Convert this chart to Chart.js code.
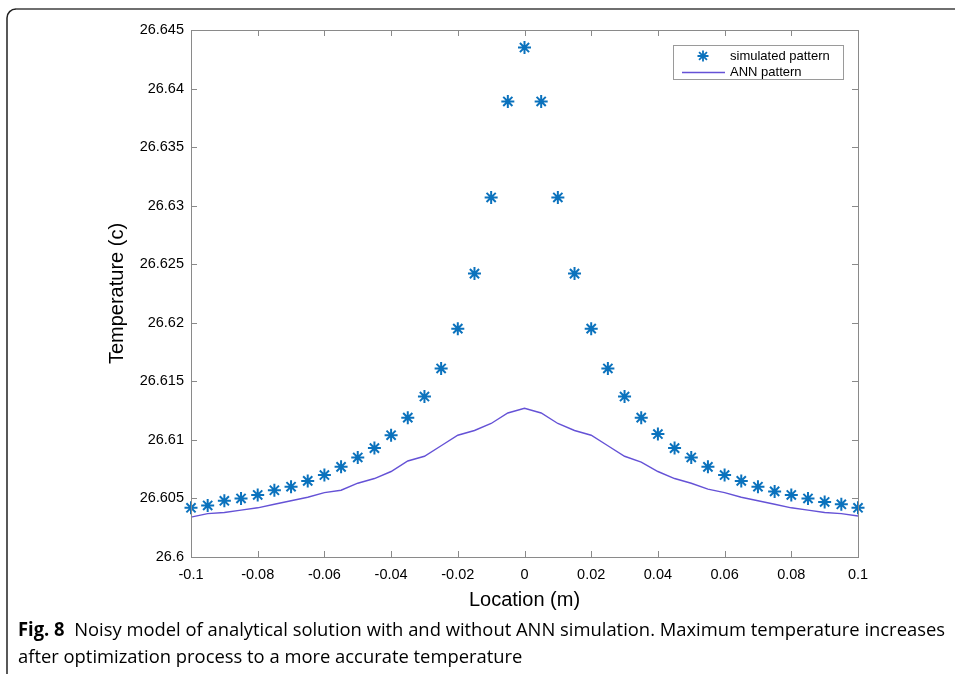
<!DOCTYPE html>
<html>
<head>
<meta charset="utf-8">
<script src="https://cdn.jsdelivr.net/npm/chart.js@4/dist/chart.umd.min.js"></script>
<style>
  html, body { margin: 0; padding: 0; background: #fff; }
  #wrap { width: 955px; height: 674px; }
</style>
</head>
<body>
<div id="wrap"><canvas id="myChart" width="955" height="674"></canvas></div>
<script>
// location along the sample (m)
const locations = [-0.1, -0.095, -0.09, -0.085, -0.08, -0.075, -0.07, -0.065, -0.06, -0.055,
  -0.05, -0.045, -0.04, -0.035, -0.03, -0.025, -0.02, -0.015, -0.01, -0.005, 0,
  0.005, 0.01, 0.015, 0.02, 0.025, 0.03, 0.035, 0.04, 0.045, 0.05,
  0.055, 0.06, 0.065, 0.07, 0.075, 0.08, 0.085, 0.09, 0.095, 0.1];

const simulated = [26.6042, 26.6044, 26.6048, 26.6050, 26.6053, 26.6057, 26.6060, 26.6065, 26.6070, 26.6077,
  26.6085, 26.6093, 26.6104, 26.6119, 26.6137, 26.6161, 26.6195, 26.6242, 26.6307, 26.6389, 26.6435,
  26.6389, 26.6307, 26.6242, 26.6195, 26.6161, 26.6137, 26.6119, 26.6105, 26.6093, 26.6085,
  26.6077, 26.6070, 26.6065, 26.6060, 26.6056, 26.6053, 26.6050, 26.6047, 26.6045, 26.6042];

const ann = [26.6034, 26.6037, 26.6038, 26.6040, 26.6042, 26.6045, 26.6048, 26.6051, 26.6055, 26.6057,
  26.6063, 26.6067, 26.6073, 26.6082, 26.6086, 26.6095, 26.6104, 26.6108, 26.6114, 26.6123, 26.6127,
  26.6123, 26.6114, 26.6108, 26.6104, 26.6095, 26.6086, 26.6081, 26.6073, 26.6067, 26.6063,
  26.6058, 26.6055, 26.6051, 26.6048, 26.6045, 26.6042, 26.6040, 26.6038, 26.6037, 26.6035];

const xTicks = [-0.1, -0.08, -0.06, -0.04, -0.02, 0, 0.02, 0.04, 0.06, 0.08, 0.1];
const yTicks = [26.6, 26.605, 26.61, 26.615, 26.62, 26.625, 26.63, 26.635, 26.64, 26.645];

const seriesNames = ['simulated pattern', 'ANN pattern'];
const xLabel = 'Location (m)';
const yLabel = 'Temperature (c)';
const captionBold = 'Fig. 8';
const captionLine1 = 'Noisy model of analytical solution with and without ANN simulation. Maximum temperature increases';
const captionLine2 = 'after optimization process to a more accurate temperature';

const starColor = '#0b72bd';
const annColor = '#6552d6';
const axisColor = '#8a8a8a';

function fmt(v) { return String(Number(v.toFixed(4))); }

// MATLAB style asterisk marker
function asterisk(c, x, y, r, color, lw) {
  const d = r * 0.72;
  c.save();
  c.strokeStyle = color;
  c.lineWidth = lw;
  c.beginPath();
  c.moveTo(x - r, y); c.lineTo(x + r, y);
  c.moveTo(x, y - r); c.lineTo(x, y + r);
  c.moveTo(x - d, y - d); c.lineTo(x + d, y + d);
  c.moveTo(x + d, y - d); c.lineTo(x - d, y + d);
  c.stroke();
  c.restore();
}

// frame, inward ticks, box, axis titles, legend, caption
const decorations = {
  id: 'decorations',
  beforeDraw(chart) {
    const c = chart.ctx;
    c.save();
    c.fillStyle = '#fff';
    c.fillRect(0, 0, chart.width, chart.height);
    // figure frame with rounded corner
    c.lineWidth = 2;
    c.strokeStyle = '#6f6f6f';
    c.beginPath();
    c.moveTo(955, 9);
    c.lineTo(16, 9);
    c.stroke();
    c.strokeStyle = '#222';
    c.lineWidth = 1.5;
    c.beginPath();
    c.moveTo(16, 9);
    c.arcTo(7, 9, 7, 18, 9);
    c.lineTo(7, 674);
    c.stroke();
    c.restore();
  },
  afterDatasetsDraw(chart) {
    const c = chart.ctx;
    const a = chart.chartArea;
    const xs = chart.scales.x, ys = chart.scales.y;
    c.save();
    c.strokeStyle = axisColor;
    c.lineWidth = 1;
    c.strokeRect(a.left + 0.5, a.top + 0.5, a.right - a.left, a.bottom - a.top);
    c.beginPath();
    xs.ticks.forEach(t => {
      const px = Math.round(xs.getPixelForValue(t.value)) + 0.5;
      c.moveTo(px, a.bottom); c.lineTo(px, a.bottom - 6);
      c.moveTo(px, a.top); c.lineTo(px, a.top + 6);
    });
    ys.ticks.forEach(t => {
      const py = Math.round(ys.getPixelForValue(t.value)) + 0.5;
      c.moveTo(a.left, py); c.lineTo(a.left + 6, py);
      c.moveTo(a.right, py); c.lineTo(a.right - 6, py);
    });
    c.stroke();

    // axis titles
    c.fillStyle = '#000';
    c.font = '20px "Liberation Sans", Arial, sans-serif';
    c.textAlign = 'center';
    c.textBaseline = 'middle';
    c.fillText(xLabel, (a.left + a.right) / 2, 600);
    c.save();
    c.translate(117, (a.top + a.bottom) / 2);
    c.rotate(-Math.PI / 2);
    c.fillText(yLabel, 0, 0);
    c.restore();

    // legend in the upper right corner
    const ds = chart.data.datasets;
    c.fillStyle = '#fff';
    c.fillRect(673, 45, 170, 34);
    c.strokeStyle = '#9a9a9a';
    c.lineWidth = 1;
    c.strokeRect(673.5, 45.5, 170, 34);
    asterisk(c, 703, 56, 5.5, ds[0].borderColor, 1.8);
    c.strokeStyle = ds[1].borderColor;
    c.lineWidth = 1.4;
    c.beginPath();
    c.moveTo(682, 72.5); c.lineTo(725, 72.5);
    c.stroke();
    c.fillStyle = '#000';
    c.font = '13px "Liberation Sans", Arial, sans-serif';
    c.textAlign = 'left';
    c.fillText(ds[0].label, 730, 56);
    c.fillText(ds[1].label, 730, 72);

    // caption, condensed to the width of the figure text block
    c.textBaseline = 'alphabetic';
    const boldFont = 'bold 19px "Open Sans", sans-serif';
    const regFont = '19px "Open Sans", sans-serif';
    c.font = boldFont;
    const wb = c.measureText(captionBold + '  ').width;
    c.font = regFont;
    const w1 = c.measureText(captionLine1).width;
    const sx = 927 / (wb + w1);
    c.save();
    c.translate(18, 636);
    c.scale(sx, 1);
    c.font = boldFont;
    c.fillText(captionBold, 0, 0);
    c.font = regFont;
    c.fillText(captionLine1, wb, 0);
    c.restore();
    c.save();
    c.translate(18, 663);
    c.scale(sx, 1);
    c.font = regFont;
    c.fillText(captionLine2, 0, 0);
    c.restore();
    c.restore();
  }
};

const ctx = document.getElementById('myChart').getContext('2d');
const myChart = new Chart(ctx, {
  type: 'scatter',
  data: {
    datasets: [{
      label: seriesNames[0],
      data: locations.map((x, i) => ({ x: x, y: simulated[i] })),
      pointStyle: 'star',
      pointRadius: 6.5,
      pointBorderWidth: 2,
      borderColor: starColor,
      backgroundColor: starColor,
      showLine: false,
      clip: false,
      order: 1
    }, {
      label: seriesNames[1],
      data: locations.map((x, i) => ({ x: x, y: ann[i] })),
      showLine: true,
      borderColor: annColor,
      backgroundColor: annColor,
      borderWidth: 1.4,
      pointRadius: 0,
      tension: 0,
      clip: false,
      order: 2
    }]
  },
  options: {
    responsive: false,
    animation: false,
    events: [],
    layout: { padding: { top: 30, right: 97, left: 0, bottom: 0 } },
    plugins: { legend: { display: false }, tooltip: { enabled: false } },
    scales: {
      x: {
        type: 'linear',
        min: -0.1, max: 0.1,
        afterFit: s => { s.height = 117; },
        afterBuildTicks: s => { s.ticks = xTicks.map(v => ({ value: v })); },
        grid: { display: false, drawTicks: false },
        border: { display: false },
        ticks: {
          padding: 9,
          color: '#000',
          font: { family: '"Liberation Sans", Arial, sans-serif', size: 14.5 },
          maxRotation: 0,
          callback: v => fmt(v)
        }
      },
      y: {
        type: 'linear',
        min: 26.6, max: 26.645,
        afterFit: s => { s.width = 191; },
        afterBuildTicks: s => { s.ticks = yTicks.map(v => ({ value: v })); },
        grid: { display: false, drawTicks: false },
        border: { display: false },
        ticks: {
          padding: 7,
          color: '#000',
          font: { family: '"Liberation Sans", Arial, sans-serif', size: 14.5 },
          callback: v => fmt(v)
        }
      }
    }
  },
  plugins: [decorations]
});
</script>
</body>
</html>
